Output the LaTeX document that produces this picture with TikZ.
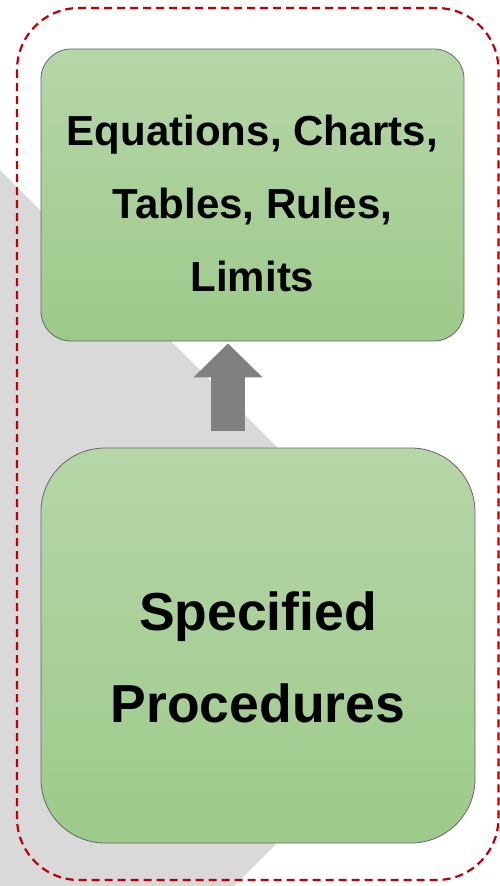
\documentclass[tikz,border=0pt]{standalone}
\usepackage{fontspec}
\setmainfont{Liberation Sans}
\usetikzlibrary{arrows.meta,calc}
\definecolor{boxtop}{RGB}{182,214,168}
\definecolor{boxbot}{RGB}{157,202,138}
\definecolor{dashred}{RGB}{192,0,0}
\definecolor{shadegray}{RGB}{217,217,217}
\begin{document}
\begin{tikzpicture}[x=1pt,y=-1pt,
	greenbox/.style={draw=gray!80!black, line width=0.8pt, top color=boxtop, bottom color=boxbot, align=center, inner sep=0pt, font=\bfseries},
	bigarrow/.style={-{Triangle[width=67pt,length=34pt]}, line width=34pt, draw={rgb,255:red,128;green,128;blue,128}}]
	\useasboundingbox (0,0) rectangle (500,886);
	
	%Shape: background band
	\fill [shadegray] (0,170) -- (277,447) -- (277,843) -- (234,886) -- (0,886) -- cycle ;
	
	%Shape: dashed frame
	\draw [dashred, line width=2.2pt, dash pattern=on 8pt off 5pt, rounded corners=62pt] (17,8) rectangle (498.5,880) ;
	
	% Top box
	\node [greenbox, rounded corners=30pt, minimum width=423pt, minimum height=292pt, text height=200pt, text depth=8pt, font=\bfseries\fontsize{42}{73}\selectfont] (rules) at (252.5,195) {Equations, Charts,\\Tables, Rules,\\Limits};
	% Bottom box
	\node [greenbox, rounded corners=64pt, minimum width=434pt, minimum height=395pt, text height=165pt, text depth=12pt, font=\bfseries\fontsize{53.5}{92}\selectfont] (procs) at (258,645.5) {Specified\\Procedures};
	
	% Arrow
	\coordinate (stem) at (228,0);
	\draw [bigarrow] ($(procs.north -| stem)+(0,-17)$) -- ($(rules.south -| stem)+(0,2)$) ;
	
\end{tikzpicture}
\end{document}
